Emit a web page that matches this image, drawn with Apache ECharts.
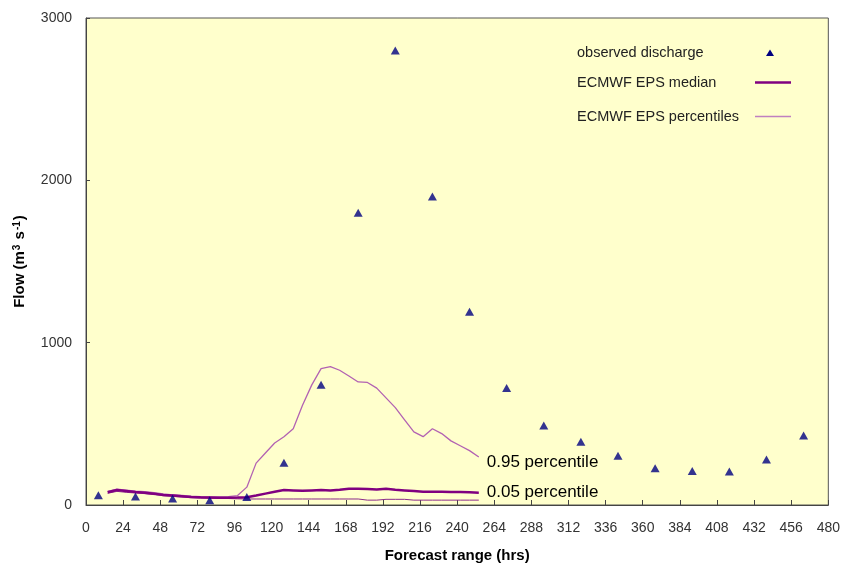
<!DOCTYPE html>
<html>
<head>
<meta charset="utf-8">
<script src="https://cdn.jsdelivr.net/npm/echarts@6/dist/echarts.min.js"></script>
<style>html,body{margin:0;padding:0;background:#fff;}#c{width:843px;height:568px;}</style>
</head>
<body>
<div id="c"></div>
<script>
// Observed discharge (every 24 h)
const obsHours = [8, 32, 56, 80, 104, 128, 152, 176, 200, 224, 248, 272, 296, 320, 344, 368, 392, 416, 440, 464];
const obsFlow  = [60, 52, 40, 30, 50, 260, 740, 1800, 2800, 1900, 1190, 720, 490, 390, 303, 227, 210, 206, 280, 428];

// ECMWF EPS forecast lead times (h)
const fcHours = [14, 20, 26, 32, 38, 44, 50, 56, 62, 68, 74, 80, 86, 92, 98, 104, 110, 116, 122, 128,
                 134, 140, 146, 152, 158, 164, 170, 176, 182, 188, 194, 200, 206, 212, 218, 224, 230, 236, 242, 248, 254];
const median = [78, 92, 86, 80, 76, 70, 62, 58, 54, 50, 47, 46, 45, 45, 46, 48, 58, 70, 82, 92,
                90, 88, 90, 92, 90, 94, 100, 100, 98, 96, 100, 94, 90, 86, 82, 82, 82, 80, 80, 78, 76];
const p95 = [84, 98, 92, 86, 82, 76, 68, 63, 59, 55, 52, 50, 50, 52, 58, 110, 258, 320, 382, 420,
             470, 615, 740, 840, 852, 830, 795, 758, 755, 720, 660, 600, 525, 450, 421, 470, 440, 395, 365, 335, 296];
const p05 = [72, 84, 78, 74, 70, 64, 57, 53, 49, 45, 42, 41, 40, 40, 38, 37, 37, 37, 37, 37,
             37, 37, 37, 37, 37, 37, 37, 37, 30, 30, 35, 35, 35, 30, 30, 30, 30, 30, 30, 30, 30];

const xTicks = {min: 0, max: 480, interval: 24};
const yTicks = {min: 0, max: 3000, interval: 1000};

const zip = (xs, ys) => xs.map((x, i) => [x, ys[i]]);
const FONT = "'Liberation Sans', Arial, sans-serif";

const chart = echarts.init(document.getElementById('c'), null, {renderer: 'canvas'});
chart.setOption({
  animation: false,
  backgroundColor: '#ffffff',
  grid: {left: 86, top: 18, right: 12, bottom: 61, show: true, backgroundColor: '#FFFFCC', borderColor: '#555', borderWidth: 1},
  xAxis: {
    type: 'value', min: xTicks.min, max: xTicks.max, interval: xTicks.interval,
    name: 'Forecast range (hrs)', nameLocation: 'middle', nameGap: 43,
    nameTextStyle: {fontFamily: FONT, fontSize: 15, fontWeight: 'bold', color: '#000'},
    axisLine: {lineStyle: {color: '#444', width: 1}},
    axisTick: {inside: true, length: 5, lineStyle: {color: '#444'}},
    axisLabel: {fontFamily: FONT, fontSize: 14, color: '#333', margin: 16},
    splitLine: {show: false}
  },
  yAxis: {
    type: 'value', min: yTicks.min, max: yTicks.max, interval: yTicks.interval,
    name: 'Flow (m{sup|3} s{sup|-1})', nameLocation: 'middle', nameGap: 58, nameRotate: 90,
    nameTextStyle: {fontFamily: FONT, fontSize: 15, fontWeight: 'bold', color: '#000',
      rich: {sup: {fontFamily: FONT, fontSize: 10, fontWeight: 'bold', color: '#000', verticalAlign: 'top', padding: [0, 1, 6, 1]}}},
    axisLine: {show: true, lineStyle: {color: '#444', width: 1}},
    axisTick: {show: true, inside: true, length: 4, lineStyle: {color: '#444'}},
    axisLabel: {fontFamily: FONT, fontSize: 14, color: '#333', margin: 14, formatter: v => String(v)},
    splitLine: {show: false}
  },
  series: [
    {
      name: 'ECMWF EPS percentiles', type: 'line', data: zip(fcHours, p05), showSymbol: false,
      lineStyle: {color: '#8b2b8b', width: 1}, z: 2,
      endLabel: {show: true, formatter: '0.05 percentile', fontFamily: FONT, fontSize: 17, color: '#000', offset: [0, -8]}
    },
    {
      name: 'ECMWF EPS percentiles 95', type: 'line', data: zip(fcHours, p95), showSymbol: false,
      lineStyle: {color: '#b262b2', width: 1.3}, z: 2,
      endLabel: {show: true, formatter: '0.95 percentile', fontFamily: FONT, fontSize: 17, color: '#000', offset: [0, 5]}
    },
    {
      name: 'ECMWF EPS median', type: 'line', data: zip(fcHours, median), showSymbol: false,
      lineStyle: {color: '#800080', width: 2.5}, z: 3
    },
    {
      name: 'observed discharge', type: 'scatter', data: zip(obsHours, obsFlow),
      symbol: 'triangle', symbolSize: [9, 8], itemStyle: {color: '#000080'}, z: 4
    }
  ],
  graphic: [
    {type: 'text', style: {x: 577, y: 53, text: 'observed discharge', font: '14.5px ' + FONT, fill: '#222', verticalAlign: 'middle'}},
    {type: 'polygon', shape: {points: [[766, 56], [770, 49.5], [774, 56]]}, style: {fill: '#000080'}},
    {type: 'text', style: {x: 577, y: 83, text: 'ECMWF EPS median', font: '14.5px ' + FONT, fill: '#222', verticalAlign: 'middle'}},
    {type: 'line', shape: {x1: 755, y1: 82.5, x2: 791, y2: 82.5}, style: {stroke: '#800080', lineWidth: 2.5}},
    {type: 'text', style: {x: 577, y: 116.5, text: 'ECMWF EPS percentiles', font: '14.5px ' + FONT, fill: '#222', verticalAlign: 'middle'}},
    {type: 'line', shape: {x1: 755, y1: 116.5, x2: 791, y2: 116.5}, style: {stroke: '#c080c0', lineWidth: 1.5}}
  ]
});
</script>
</body>
</html>
